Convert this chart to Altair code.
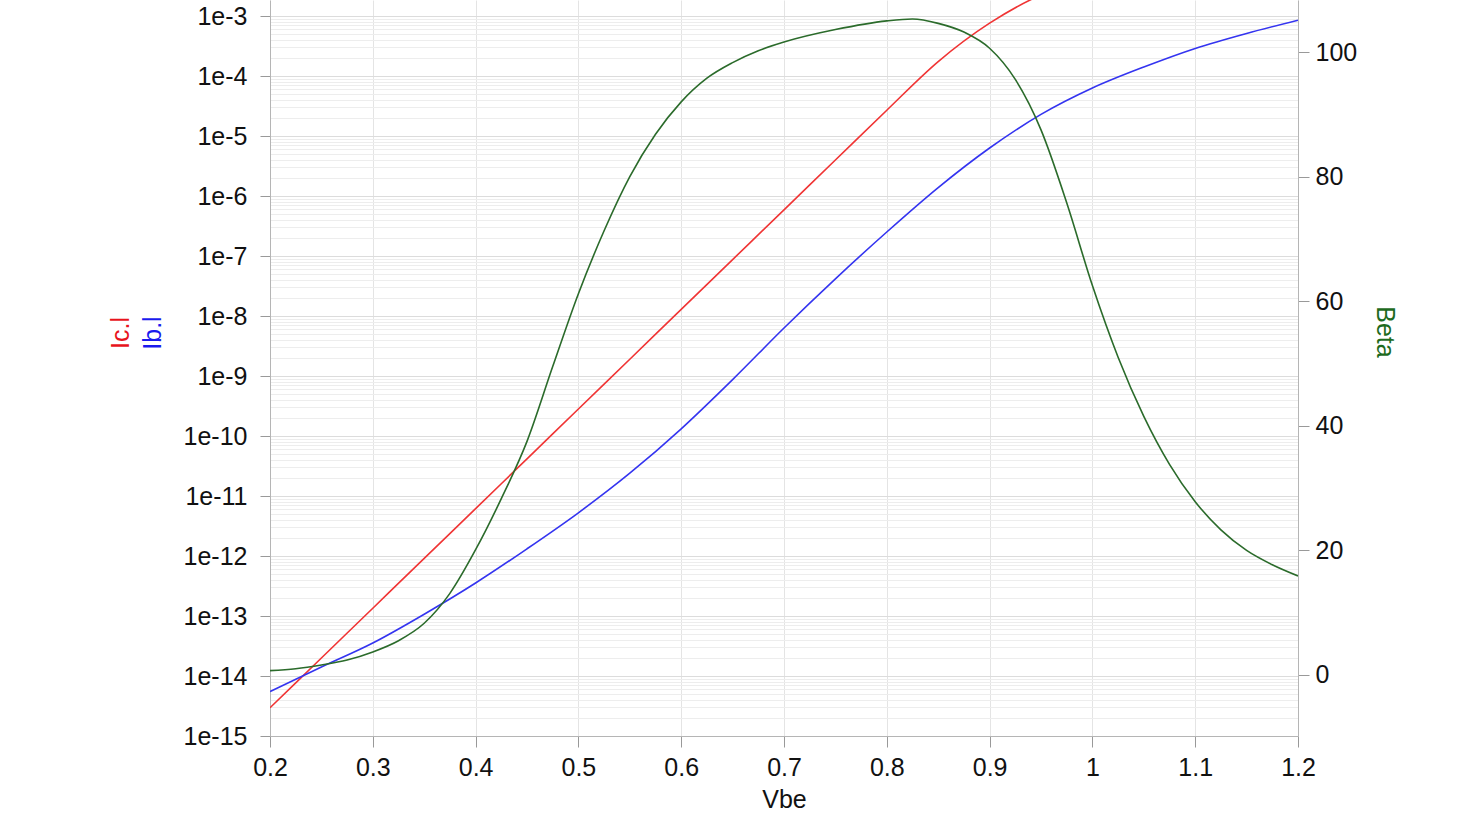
import altair as alt
import pandas as pd

# ---- data ----
vbe_i = [0.2, 0.25, 0.3, 0.35, 0.4, 0.45, 0.5, 0.55, 0.6, 0.65, 0.7,
         0.75, 0.8, 0.85, 0.9, 0.95, 1.0, 1.05, 1.1, 1.15, 1.2]
ic_log10 = [-14.53, -13.70, -12.87, -12.04, -11.21, -10.38, -9.55, -8.72, -7.89,
            -7.06, -6.23, -5.40, -4.57, -3.76, -3.12, -2.65, -2.38, -2.20, -2.06,
            -1.96, -1.87]
ib_log10 = [-14.26, -13.85, -13.45, -12.97, -12.45, -11.88, -11.28, -10.62, -9.88,
            -9.06, -8.20, -7.38, -6.60, -5.86, -5.20, -4.64, -4.20, -3.85, -3.54,
            -3.29, -3.07]

vbe_b = [0.2, 0.225, 0.25, 0.275, 0.3, 0.325, 0.35, 0.375, 0.4, 0.425, 0.45,
         0.475, 0.5, 0.525, 0.55, 0.575, 0.6, 0.625, 0.65, 0.675, 0.7, 0.75, 0.8,
         0.825, 0.85, 0.875, 0.9, 0.925, 0.95, 0.975, 1.0, 1.025, 1.05, 1.075,
         1.1, 1.125, 1.15, 1.175, 1.2]
beta = [0.7, 1.0, 1.6, 2.4, 3.7, 5.5, 8.3, 13.1, 20.1, 28.3, 37.5,
        49.5, 61.2, 71.3, 80.0, 86.8, 92.0, 95.8, 98.3, 100.2, 101.6, 103.6, 105.0,
        105.3, 104.6, 103.2, 100.6, 95.6, 87.5, 75.8, 62.5, 51.0, 41.5, 33.8,
        27.8, 23.3, 20.0, 17.7, 15.9]

x_ticks = [0.2, 0.3, 0.4, 0.5, 0.6, 0.7, 0.8, 0.9, 1.0, 1.1, 1.2]
beta_ticks = [0, 20, 40, 60, 80, 100]
left_domain = [1e-15, 1.848e-3]
right_domain = [-9.8, 108.35]

grid_vals = [k * 10.0 ** n for n in range(-15, -2) for k in range(1, 10)
             if k * 10.0 ** n <= left_domain[1]]

FONT = "Liberation Sans"
RED, BLUE, GREEN = "#f03434", "#3434f0", "#2b6b2b"

cur = pd.DataFrame({
    "Vbe": vbe_i * 2,
    "I": [10 ** v for v in ic_log10] + [10 ** v for v in ib_log10],
    "series": ["Ic"] * len(vbe_i) + ["Ib"] * len(vbe_i),
})
bdf = pd.DataFrame({"Vbe": vbe_b, "Beta": beta})

is_decade = "abs(log(datum.value)/LN10 - round(log(datum.value)/LN10)) < 0.001"

x_enc = alt.X(
    "Vbe:Q",
    scale=alt.Scale(domain=[0.2, 1.2], nice=False, zero=False),
    axis=alt.Axis(values=x_ticks, format="~g", grid=True, gridColor="#e4e4e4",
                  tickSize=11, labelPadding=8, labelFlush=False,
                  title="Vbe", titlePadding=7, domainColor="#b5b5b5",
                  tickColor="#999999"),
)

currents = alt.Chart(cur).mark_line(clip=True, strokeWidth=1.6, interpolate="monotone").encode(
    x=x_enc,
    y=alt.Y(
        "I:Q",
        scale=alt.Scale(type="log", domain=left_domain, nice=False),
        axis=alt.Axis(
            values=grid_vals,
            labelExpr=f"{is_decade} ? '1e' + round(log(datum.value)/LN10) : ''",
            labelOverlap=False,
            grid=True,
            gridColor={"condition": {"test": is_decade, "value": "#dcdcdc"}, "value": "#ededed"},
            tickOpacity={"condition": {"test": is_decade, "value": 1}, "value": 0},
            tickSize=10, labelPadding=13, title=None,
            domainColor="#b5b5b5", tickColor="#999999",
        ),
    ),
    color=alt.Color("series:N", scale=alt.Scale(domain=["Ic", "Ib"], range=[RED, BLUE]), legend=None),
    order=alt.Order("Vbe:Q"),
)

beta_line = alt.Chart(bdf).mark_line(clip=True, strokeWidth=1.6, color=GREEN, interpolate="monotone").encode(
    x=alt.X("Vbe:Q"),
    y=alt.Y(
        "Beta:Q",
        scale=alt.Scale(domain=right_domain, nice=False, zero=False),
        axis=alt.Axis(orient="right", values=beta_ticks, grid=False, tickSize=11,
                      labelPadding=6, title=None, domainColor="#b5b5b5",
                      tickColor="#999999"),
    ),
)

def label(txt, x, y, angle, color):
    return alt.Chart(pd.DataFrame({"t": [txt]})).mark_text(
        angle=angle, fontSize=25, font=FONT, color=color, align="center", baseline="middle"
    ).encode(x=alt.value(x), y=alt.value(y), text="t:N")

t_ic = label("Ic.l", -149, 333, 270, "#e8141c")
t_ib = label("Ib.l", -117, 333, 270, "#1a1aee")
t_beta = label("Beta", 1115, 332, 90, "#1e6b1e")

chart = alt.layer(currents, beta_line, t_ic, t_ib, t_beta).resolve_scale(
    y="independent"
).properties(
    width=1028, height=736,
    padding={"left": 270, "top": 0, "right": 165, "bottom": 77},
    autosize=alt.AutoSizeParams(type="none"),
    background="white",
).configure_view(stroke=None).configure_axis(
    labelFont=FONT, titleFont=FONT, labelFontSize=25, titleFontSize=25,
    titleFontWeight="normal", labelColor="#111111", titleColor="#111111",
)

chart.save("out.html", embed_options={"renderer": "svg", "actions": False})
